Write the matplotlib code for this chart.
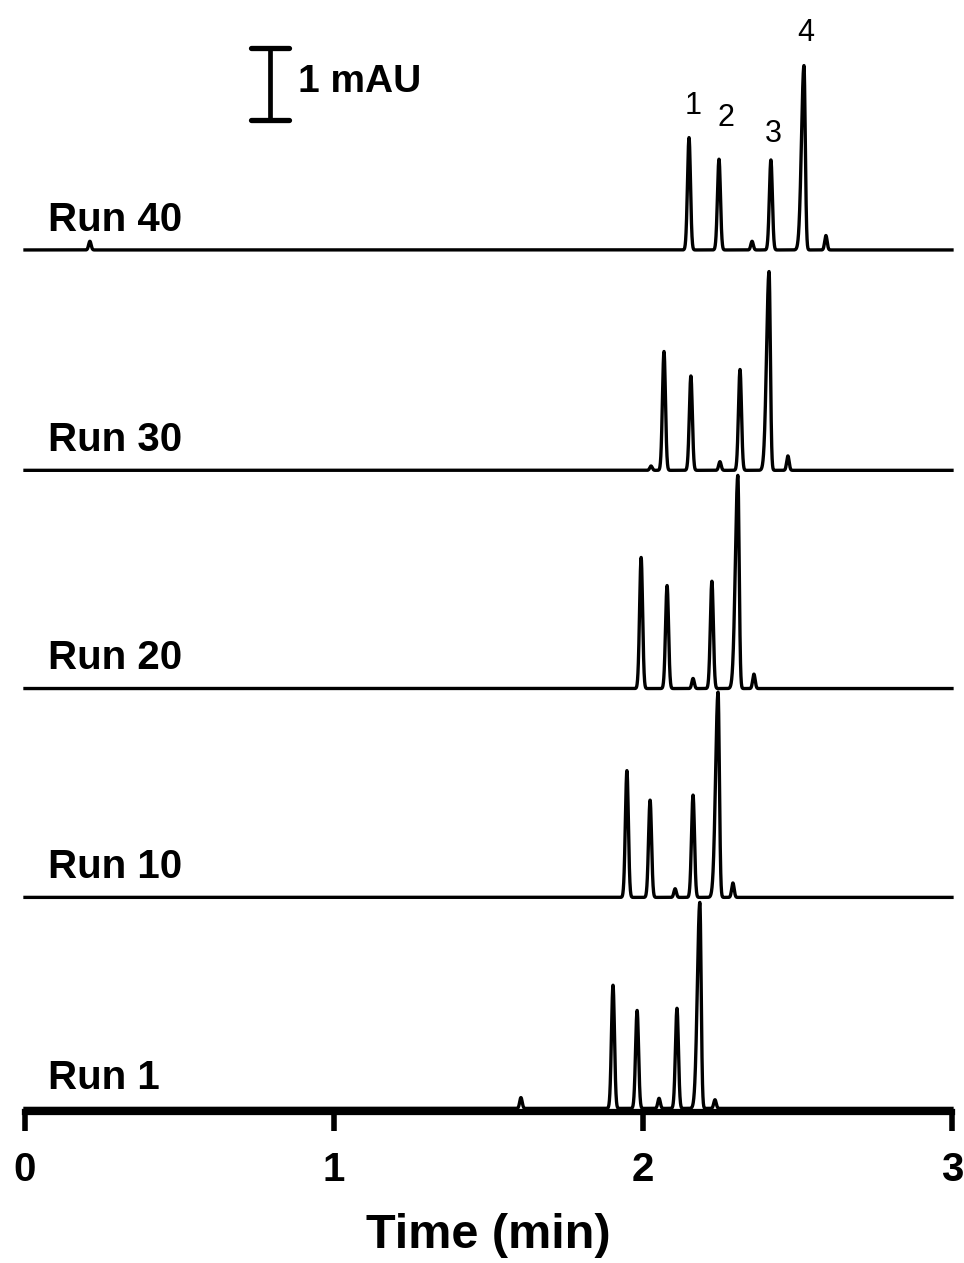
import numpy as np
import matplotlib.pyplot as plt

plt.rcParams['font.family'] = ['Liberation Sans', 'DejaVu Sans']

runs = ['Run 1', 'Run 10', 'Run 20', 'Run 30', 'Run 40']

# migration times (min) of analytes 1-4 in each run
peak_times = [
    [1.903, 1.981, 2.110, 2.184],
    [1.948, 2.023, 2.162, 2.243],
    [1.994, 2.078, 2.223, 2.307],
    [2.068, 2.155, 2.314, 2.408],
    [2.149, 2.246, 2.414, 2.521],
]
# peak heights (mAU)
peak_heights = [
    [1.71, 1.36, 1.39, 2.86],
    [1.76, 1.35, 1.42, 2.85],
    [1.82, 1.43, 1.49, 2.96],
    [1.65, 1.31, 1.40, 2.76],
    [1.56, 1.26, 1.25, 2.56],
]
# small system peaks / spikes on the baseline
minor_times = [
    [1.605, 2.052, 2.233],
    [2.104, 2.291],
    [2.162, 2.359],
    [2.026, 2.249, 2.469],
    [0.21, 2.353, 2.592],
]
minor_heights = [
    [0.15, 0.14, 0.12],
    [0.12, 0.20],
    [0.14, 0.20],
    [0.06, 0.12, 0.20],
    [0.12, 0.12, 0.20],
]
peak_ids = ['1', '2', '3', '4']
x_ticks = [0, 1, 2, 3]

# vertical stacking of the traces (mAU)
offsets = [0.0, 2.93, 5.83, 8.86, 11.92]


def peak(t, t0, h, s_left, s_right):
    s = np.where(t < t0, s_left, s_right)
    return h * np.exp(-0.5 * ((t - t0) / s) ** 2)


t = np.linspace(0, 3, 9001)

fig = plt.figure(figsize=(9.64, 12.63), dpi=100)
ax = fig.add_axes([0.02593, 0.11956, 0.9616, 0.8804])

for i, name in enumerate(runs):
    y = np.zeros_like(t)
    for k, (tp, h) in enumerate(zip(peak_times[i], peak_heights[i])):
        if k == 3:
            y += peak(t, tp, h, 0.0080, 0.0042)
        else:
            y += peak(t, tp, h, 0.0050, 0.0047)
    for tp, h in zip(minor_times[i], minor_heights[i]):
        y += peak(t, tp, h, 0.004, 0.004)
    ax.plot(t, y + offsets[i], color='black', lw=2.4, clip_on=False)
    ax.text(0.074, offsets[i] + 0.27, name, fontsize=29, fontweight='bold',
            ha='left', va='baseline')

# peak numbers over the top trace
label_pos = [(2.162, 13.92), (2.269, 13.75), (2.421, 13.53), (2.528, 14.93)]
for lab, (lx, ly) in zip(peak_ids, label_pos):
    ax.text(lx, ly, lab, fontsize=22, ha='center', va='center',
            family=['Liberation Sans Narrow', 'Liberation Sans'])

# 1 mAU scale bar
bx, by0, by1, bw = 0.793, 13.72, 14.72, 0.063
ax.plot([bx, bx], [by0, by1], color='black', lw=3.4)
ax.plot([bx - bw, bx + bw], [by0, by0], color='black', lw=3.8, solid_capstyle='round')
ax.plot([bx - bw, bx + bw], [by1, by1], color='black', lw=3.8, solid_capstyle='round')
ax.text(0.885, 14.25, '1 mAU', fontsize=28, fontweight='bold', ha='left', va='center')

ax.set_xlim(0, 3)
ax.set_ylim(-0.05, 15.39)
for s in ['left', 'right', 'top']:
    ax.spines[s].set_visible(False)
ax.spines['bottom'].set_linewidth(4.5)
ax.spines['bottom'].set_bounds(0, 3)
ax.set_yticks([])
ax.set_xticks(x_ticks)
ax.set_xticklabels([str(v) for v in x_ticks], fontsize=29, fontweight='bold')
ax.tick_params(axis='x', direction='out', length=14, width=4, pad=14)
for tk in ax.xaxis.get_major_ticks():
    tk.tick1line.set_solid_capstyle('round')

fig.text(488 / 964, 1 - 1236 / 1263, 'Time (min)', fontsize=35, fontweight='bold',
         ha='center', va='center')

fig.savefig('out.png', dpi=100)
